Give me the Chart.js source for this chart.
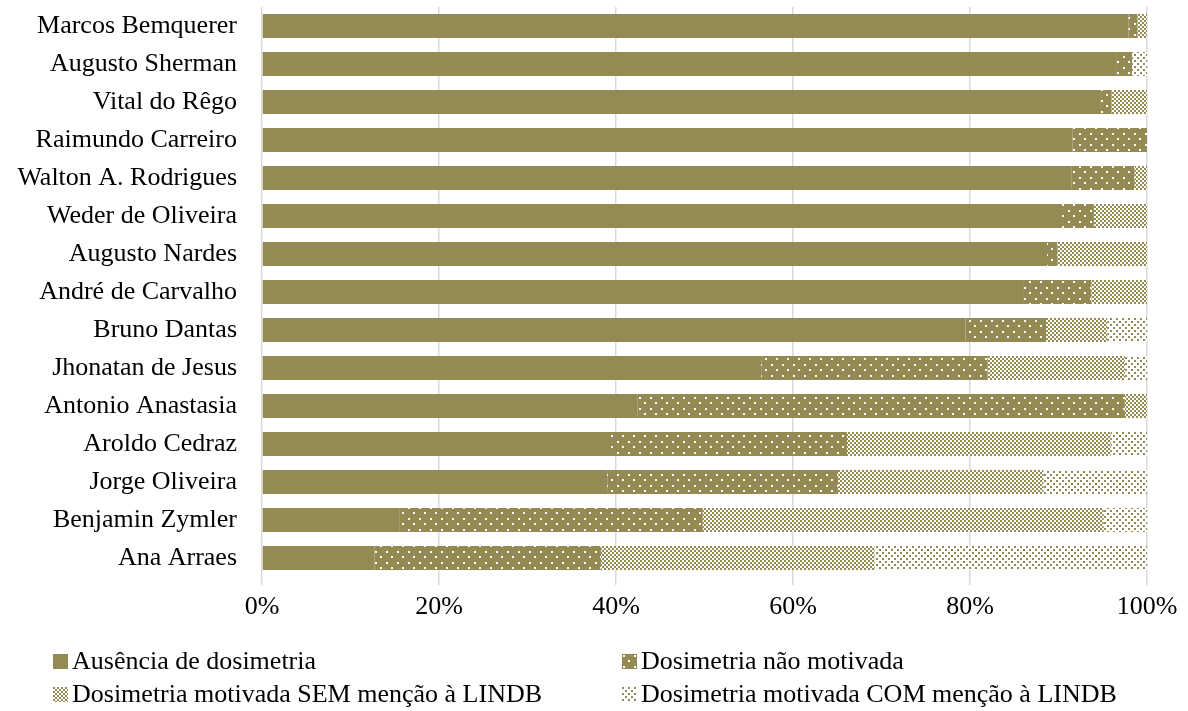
<!DOCTYPE html>
<html>
<head>
<meta charset="utf-8">
<script src="https://cdn.jsdelivr.net/npm/chart.js@4"></script>
<style>
    body { margin: 0; background: #fff; }
    #wrap { position: relative; width: 1188px; height: 711px; }
    .leg { position: absolute; height: 30px; line-height: 30px; font-family: 'Liberation Serif', 'Times New Roman', serif; font-size: 26px; color: #000; white-space: nowrap; }
    .leg canvas { position: absolute; left: 0; top: 8px; }
    .leg span { position: absolute; left: 19px; top: 0; }
</style>
</head>
<body>
<div id="wrap">
    <canvas id="chart" width="1188" height="711"></canvas>
    <div class="leg" style="left:53px; top:646px;"><canvas id="sw0" width="15" height="15"></canvas><span>Ausência de dosimetria</span></div>
    <div class="leg" style="left:622px; top:646px;"><canvas id="sw1" width="15" height="15"></canvas><span>Dosimetria não motivada</span></div>
    <div class="leg" style="left:53px; top:679px;"><canvas id="sw2" width="15" height="15"></canvas><span>Dosimetria motivada SEM menção à LINDB</span></div>
    <div class="leg" style="left:622px; top:679px;"><canvas id="sw3" width="15" height="15"></canvas><span>Dosimetria motivada COM menção à LINDB</span></div>
</div>
<script>
const olive = '#948A54';
const serif = "'Liberation Serif', 'Times New Roman', serif";

const ministros = [
    'Marcos Bemquerer', 'Augusto Sherman', 'Vital do Rêgo', 'Raimundo Carreiro',
    'Walton A. Rodrigues', 'Weder de Oliveira', 'Augusto Nardes', 'André de Carvalho',
    'Bruno Dantas', 'Jhonatan de Jesus', 'Antonio Anastasia', 'Aroldo Cedraz',
    'Jorge Oliveira', 'Benjamin Zymler', 'Ana Arraes'
];
const seriesNames = [
    'Ausência de dosimetria',
    'Dosimetria não motivada',
    'Dosimetria motivada SEM menção à LINDB',
    'Dosimetria motivada COM menção à LINDB'
];
const ausencia   = [97.9, 96.6, 94.7, 91.6, 91.5, 90.4, 88.7, 86.0, 79.5, 56.4, 42.4, 39.1, 39.0, 15.5, 12.7];
const naoMotiv   = [1.0, 1.7, 1.3, 8.4, 7.1, 3.6, 1.2, 7.7, 9.1, 25.6, 55.1, 27.0, 26.1, 34.3, 25.6];
const semLindb   = [1.1, 0, 4.0, 0, 1.4, 6.0, 10.1, 6.3, 6.9, 15.5, 2.5, 29.8, 23.2, 45.3, 30.9];
const comLindb   = [0, 1.7, 0, 0, 0, 0, 0, 0, 4.5, 2.5, 0, 4.1, 11.7, 4.9, 30.8];
const xTicks = [0, 20, 40, 60, 80, 100];

// fill patterns like the office ones
function makeFill(kind, target) {
    const c = document.createElement('canvas');
    let g;
    if (kind === 'solid') {
        return olive;
    } else if (kind === 'dots') {
        c.width = 11; c.height = 11;
        g = c.getContext('2d');
        g.fillStyle = olive; g.fillRect(0, 0, 11, 11);
        g.fillStyle = '#fff';
        g.fillRect(1, 1, 2, 2);
        g.fillRect(6, 6, 2, 2);
    } else if (kind === 'checker') {
        c.width = 4; c.height = 4;
        g = c.getContext('2d');
        g.fillStyle = '#fff'; g.fillRect(0, 0, 4, 4);
        g.fillStyle = olive;
        g.fillRect(0, 0, 2, 2);
        g.fillRect(2, 2, 2, 2);
    } else {
        c.width = 6; c.height = 6;
        g = c.getContext('2d');
        g.fillStyle = '#fff'; g.fillRect(0, 0, 6, 6);
        g.fillStyle = olive;
        g.fillRect(0, 0, 2, 2);
        g.fillRect(3, 3, 2, 2);
    }
    return target.createPattern(c, 'repeat');
}

const ctx = document.getElementById('chart').getContext('2d');
const kinds = ['solid', 'dots', 'checker', 'grid'];
const fills = kinds.map(k => makeFill(k, ctx));
const values = [ausencia, naoMotiv, semLindb, comLindb];

// legend swatches
kinds.forEach((k, i) => {
    const sc = document.getElementById('sw' + i).getContext('2d');
    sc.fillStyle = makeFill(k, sc);
    sc.fillRect(0, 0, 15, 15);
});

const chart = new Chart(ctx, {
    type: 'bar',
    data: {
        labels: ministros,
        datasets: seriesNames.map((name, i) => ({
            label: name,
            data: values[i],
            backgroundColor: fills[i],
            borderWidth: 0,
            categoryPercentage: 1,
            barPercentage: 0.63
        }))
    },
    options: {
        indexAxis: 'y',
        responsive: false,
        animation: false,
        layout: { padding: { top: 7, right: 41, bottom: 88, left: 0 } },
        plugins: {
            legend: { display: false },
            tooltip: { enabled: false }
        },
        scales: {
            x: {
                stacked: true,
                min: 0,
                max: 100,
                afterFit: s => { s.height = 46; },
                afterBuildTicks: s => { s.ticks = xTicks.map(v => ({ value: v })); },
                grid: { color: '#d9d9d9', lineWidth: 1.5, tickLength: 8 },
                border: { display: false },
                ticks: {
                    padding: 7,
                    maxRotation: 0,
                    color: '#000',
                    font: { family: serif, size: 26 },
                    callback: v => v + '%'
                }
            },
            y: {
                stacked: true,
                afterFit: s => { s.width = 262; s.paddingTop = 0; s.paddingBottom = 0; },
                grid: { display: false, drawTicks: false },
                border: { display: false },
                ticks: {
                    padding: 25,
                    color: '#000',
                    font: { family: serif, size: 26 }
                }
            }
        }
    }
});
</script>
</body>
</html>
